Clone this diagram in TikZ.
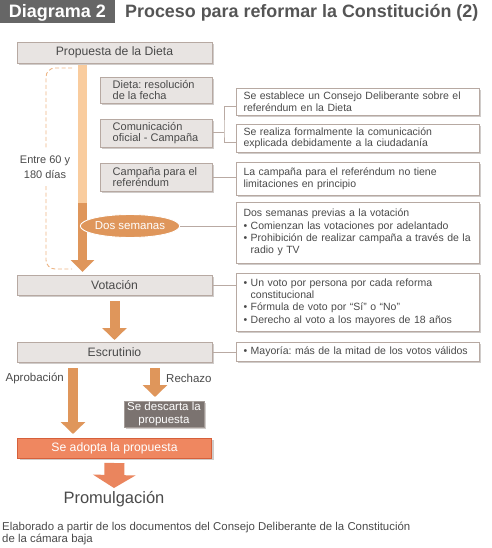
\documentclass[tikz,border=0pt]{standalone}
\usepackage{fontspec}
\setmainfont{Liberation Sans}
\frenchspacing
\usetikzlibrary{shadows,shapes.geometric,arrows.meta}
\definecolor{txt}{HTML}{4A4A4A}
\definecolor{titlebg}{HTML}{666666}
\definecolor{titletxt}{HTML}{555555}
\definecolor{boxfill}{HTML}{E8E4E2}
\definecolor{boxdraw}{HTML}{B7A9A2}
\definecolor{shadowc}{HTML}{D0CCCA}
\definecolor{conncol}{HTML}{B9AAA3}
\definecolor{lightor}{HTML}{F9CC9E}
\definecolor{darkor}{HTML}{DF965B}
\definecolor{dashor}{HTML}{EDB585}
\definecolor{adoptfill}{HTML}{EF8760}
\definecolor{adoptdraw}{HTML}{D6603B}
\definecolor{promor}{HTML}{EA855E}
\definecolor{descfill}{HTML}{7B7370}
\definecolor{descdraw}{HTML}{A39B97}
\begin{document}
\begin{tikzpicture}[x=1pt,y=-1pt,
  shad/.style={drop shadow={shadow xshift=2.2pt,shadow yshift=-2.2pt,fill=shadowc,opacity=1}},
  mainbox/.style={draw=boxdraw,fill=boxfill,line width=0.9pt,inner sep=0pt,outer sep=0pt,
    text=txt,font=\fontsize{12.2}{12.5}\selectfont,shad},
  sidebox/.style={mainbox,minimum width=112pt},
  sidetext/.style={text=txt,align=left,anchor=west,inner sep=0pt,font=\fontsize{11}{10.8}\selectfont},
  notebox/.style={draw=boxdraw,fill=white,line width=0.9pt,inner sep=0pt,outer sep=0pt,
    text=txt,font=\fontsize{10.5}{11.5}\selectfont,align=left,text width=228pt,
    minimum width=243pt,shad},
  conn/.style={draw=conncol,line width=1pt},
  dashbr/.style={draw=dashor,line width=0.9pt,dash pattern=on 4pt off 2.5pt,rounded corners=9pt},
  blockarrow/.style={draw=darkor,line width=10pt,-{Triangle[width=24pt,length=12pt]}},
  lbl/.style={text=txt,font=\fontsize{11.5}{12}\selectfont,inner sep=0pt}
]
\useasboundingbox (0,0) rectangle (491,548);

% title
\node[fill=titlebg,minimum width=115pt,minimum height=23pt,inner sep=0pt,anchor=north west] (tbox) at (0,0) {};
\node[text=white,font=\bfseries\fontsize{18}{18}\selectfont,anchor=base,inner sep=0pt] (tlab) at (57.5,17.3) {Diagrama 2};
\node[text=titletxt,font=\bfseries\fontsize{17.9}{18}\selectfont,anchor=base west,inner sep=0pt] (ttl) at (125,17.3) {Proceso para reformar la Constitución (2)};

% time bar
\fill[lightor] (78,63) rectangle (87,203);
\draw[line width=9pt,darkor,-{Triangle[width=23pt,length=12pt]}] (82.5,203) -- (82.5,272);

% dashed bracket
\draw[dashbr] (72,68) -- (46,68) -- (46,149);
\draw[dashbr] (46,186) -- (46,269) -- (72,269);
\node[text=txt,font=\fontsize{11}{15}\selectfont,align=center,inner sep=0pt] (entre) at (45,167) {Entre 60 y\\180 días};

% main boxes
\node[mainbox,minimum width=195pt,minimum height=21pt] (prop) at (114.5,52.5) {Propuesta de la Dieta};
\node[sidebox,minimum height=26pt] (dieta) at (156,90) {};
\node[sidetext] (dietat) at ([xshift=12.5pt]dieta.west) {Dieta: resolución\\de la fecha};
\node[sidebox,minimum height=28pt] (com) at (156,133) {};
\node[sidetext,font=\fontsize{11}{11.8}\selectfont] (comt) at ([xshift=12.5pt]com.west) {Comunicación\\oficial - Campaña};
\node[sidebox,minimum height=28pt] (camp) at (156,177) {};
\node[sidetext] (campt) at ([xshift=12.5pt]camp.west) {Campaña para el\\referéndum};
\node[ellipse,fill=darkor,draw=white,line width=0.9pt,minimum width=92pt,minimum height=23pt,inner sep=0pt,
  text=white,font=\fontsize{11.5}{12}\selectfont] (dos) at (130,226) {Dos semanas};
\node[mainbox,minimum width=195pt,minimum height=20pt] (vot) at (114.5,285) {Votación};
\node[mainbox,minimum width=195pt,minimum height=20pt] (esc) at (114.5,352) {Escrutinio};
\node[mainbox,fill=descfill,draw=descdraw,text=white,align=center,minimum width=80pt,minimum height=26pt,
  font=\fontsize{11.5}{12.5}\selectfont] (desc) at (164,414) {Se descarta la\\propuesta};
\node[mainbox,fill=adoptfill,draw=adoptdraw,text=white,minimum width=194pt,minimum height=20pt] (adopt) at (114.5,448) {Se adopta la propuesta};
\node[text=txt,font=\fontsize{16.5}{17}\selectfont,inner sep=0pt] (prom) at (114,499) {Promulgación};

% note boxes
\node[notebox,minimum height=27pt] (r1) at (357.5,101.5) {Se establece un Consejo Deliberante sobre el\\referéndum en la Dieta};
\node[notebox,minimum height=28pt] (r2) at (357.5,138) {Se realiza formalmente la comunicación\\explicada debidamente a la ciudadanía};
\node[notebox,minimum height=33pt] (r3) at (357.5,178.5) {La campaña para el referéndum no tiene\\limitaciones en principio};
\node[notebox,minimum height=61pt,font=\fontsize{10.5}{12.3}\selectfont] (r4) at (357.5,232.5) {Dos semanas previas a la votación\\\textbullet\ Comienzan las votaciones por adelantado\\\textbullet\ Prohibición de realizar campaña a través de la\\\phantom{\textbullet\ }radio y TV};
\node[notebox,minimum height=58pt,font=\fontsize{10.5}{12.3}\selectfont] (r5) at (357.5,302) {\textbullet\ Un voto por persona por cada reforma\\\phantom{\textbullet\ }constitucional\\\textbullet\ Fórmula de voto por “Sí” o “No”\\\textbullet\ Derecho al voto a los mayores de 18 años};
\node[notebox,minimum height=19pt] (r6) at (357.5,351.5) {\textbullet\ Mayoría: más de la mitad de los votos válidos};

% connectors
\draw[conn] (com.east) -- ([xshift=12pt]com.east) coordinate (bk);
\draw[conn] ([yshift=-5pt]r1.west) -| (bk) |- ([yshift=-5pt]r2.west);
\draw[conn] (camp.east) -- (camp.east -| r3.west);
\draw[conn] (dos.east) -- (dos.east -| r4.west);
\draw[conn] (vot.east) -- (vot.east -| r5.west);
\draw[conn] (esc.east) -- (esc.east -| r6.west);

% block arrows
\coordinate (a1s) at ([yshift=-6pt]vot.south);
\coordinate (a1e) at ([yshift=2pt]esc.north);
\draw[blockarrow] (a1s) -- (a1e);
\coordinate (aps) at ([yshift=-6pt,xshift=-41.5pt]esc.south);
\coordinate (ape) at ([xshift=-41.5pt,yshift=4pt]adopt.north);
\draw[blockarrow] (aps) -- (ape);
\coordinate (rjs) at ([yshift=-6pt,xshift=40.5pt]esc.south);
\coordinate (rje) at ([yshift=4pt]desc.north -| rjs);
\draw[blockarrow] (rjs) -- (rje);
\coordinate (pms) at ([yshift=-5pt]adopt.south);
\coordinate (pme) at ([yshift=3pt]prom.north);
\draw[draw=promor,line width=20pt,-{Triangle[width=42pt,length=13pt]}] (pms) -- (pme);

\node[lbl,anchor=east] (aprob) at (64,378) {Aprobación};
\node[lbl,anchor=west] (rech) at (166,378) {Rechazo};

% footer
\node[text=txt,font=\fontsize{11.4}{12}\selectfont,align=left,anchor=north west,inner sep=0pt] (foot) at (2,522)
 {Elaborado a partir de los documentos del Consejo Deliberante de la Constitución\\de la cámara baja};
\end{tikzpicture}
\end{document}
